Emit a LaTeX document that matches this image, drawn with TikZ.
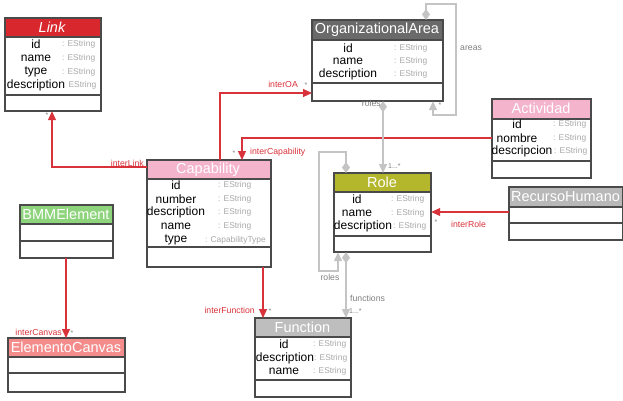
\documentclass[tikz,border=0pt]{standalone}
\usepackage{fontspec}
\setmainfont{Liberation Sans}
\usetikzlibrary{arrows.meta,calc}
\definecolor{bord}{HTML}{4A4A4A}
\definecolor{linkred}{HTML}{D8282E}
\definecolor{oagray}{HTML}{6A6A6A}
\definecolor{pinkh}{HTML}{F4B4CC}
\definecolor{olive}{HTML}{B4B62C}
\definecolor{rhgray}{HTML}{B8B8B8}
\definecolor{fngray}{HTML}{BEBEBE}
\definecolor{bmmgreen}{HTML}{8ED47C}
\definecolor{salmon}{HTML}{F48C8C}
\definecolor{relred}{HTML}{D8323A}
\definecolor{compgray}{HTML}{C4C4C4}
\definecolor{typegray}{HTML}{A8A8A8}
\tikzset{
  box/.style={draw=bord, line width=1.2pt, fill=white, inner sep=0pt, anchor=north west},
  sep/.style={draw=bord, line width=1.2pt},
  head/.style={text=white, font=\fontsize{14.5}{14.5}\selectfont, inner sep=0pt},
  attr/.style={font=\fontsize{12}{12}\selectfont, inner sep=0pt},
  typ/.style={font=\fontsize{8.4}{8.4}\selectfont, text=typegray, inner sep=0pt, anchor=west},
  rel/.style={draw=relred, line width=1.2pt, -{Triangle[length=9pt,width=8pt]}},
  comp/.style={draw=compgray, line width=1.4pt, {Diamond[length=11pt,width=8pt]}-{Triangle[length=9pt,width=8pt]}},
  rlab/.style={font=\fontsize{8.7}{9}\selectfont, text=relred, inner sep=0pt},
  glab/.style={font=\fontsize{8.7}{9}\selectfont, text=gray, inner sep=0pt},
  star/.style={font=\fontsize{7}{7}\selectfont, text=gray, inner sep=0pt},
}
\begin{document}
\begin{tikzpicture}[x=1pt,y=-1pt]
\useasboundingbox (0,0) rectangle (623,400);

% ---------- Link ----------
\node[box, minimum width=95pt, minimum height=92pt] (link) at (5,18) {};
\fill[linkred] (5,18) rectangle (100,37);
\draw[sep] (5,37) -- (100,37); \draw[sep] (5,95) -- (100,95);
\draw[bord, line width=1.2pt] (link.north west) rectangle (link.south east);
\node[head, font=\fontsize{14.5}{14.5}\selectfont\itshape] (linkt) at (52,27) {Link};
\node[attr] (l1) at (36,44) {id}; \node[typ] (l1t) at (62,44) {: EString};
\node[attr] (l2) at (36,58) {name}; \node[typ] (l2t) at (62,58) {: EString};
\node[attr] (l3) at (36,72) {type}; \node[typ] (l3t) at (62,72) {: EString};
\node[attr] (l4) at (36,85) {description}; \node[typ] (l4t) at (63,85) {: EString};

% ---------- OrganizationalArea ----------
\node[box, minimum width=130pt, minimum height=80pt] (oa) at (312,20) {};
\fill[oagray] (312,20) rectangle (442,40);
\draw[sep] (312,40) -- (442,40); \draw[sep] (312,83) -- (442,83);
\draw[bord, line width=1.2pt] (oa.north west) rectangle (oa.south east);
\node[head] (oat) at (377,30) {OrganizationalArea};
\node[attr] (o1) at (348,48) {id}; \node[typ] (o1t) at (394,48) {: EString};
\node[attr] (o2) at (348,61) {name}; \node[typ] (o2t) at (394,61) {: EString};
\node[attr] (o3) at (348,74) {description}; \node[typ] (o3t) at (394,74) {: EString};

% ---------- Capability ----------
\node[box, minimum width=123pt, minimum height=106pt] (cap) at (147,160) {};
\fill[pinkh] (147,160) rectangle (270,179);
\draw[sep] (147,179) -- (270,179); \draw[sep] (147,247) -- (270,247);
\draw[bord, line width=1.2pt] (cap.north west) rectangle (cap.south east);
\node[head] (capt) at (208,170) {Capability};
\node[attr] (c1) at (176,185) {id}; \node[typ] (c1t) at (218,185) {: EString};
\node[attr] (c2) at (176,199) {number}; \node[typ] (c2t) at (218,199) {: EString};
\node[attr] (c3) at (176,212) {description}; \node[typ] (c3t) at (218,212) {: EString};
\node[attr] (c4) at (176,226) {name}; \node[typ] (c4t) at (218,226) {: EString};
\node[attr] (c5) at (176,240) {type}; \node[typ] (c5t) at (205,240) {: CapabilityType};

% ---------- Role ----------
\node[box, minimum width=96pt, minimum height=78pt] (role) at (334,173) {};
\fill[olive] (334,173) rectangle (430,192);
\draw[sep] (334,192) -- (430,192); \draw[sep] (334,236) -- (430,236);
\draw[bord, line width=1.2pt] (role.north west) rectangle (role.south east);
\node[head] (rolet) at (382,182) {Role};
\node[attr] (r1) at (357,199) {id}; \node[typ] (r1t) at (391,199) {: EString};
\node[attr] (r2) at (357,213) {name}; \node[typ] (r2t) at (391,213) {: EString};
\node[attr] (r3) at (363,226) {description}; \node[typ] (r3t) at (393,226) {: EString};

% ---------- Actividad ----------
\node[box, minimum width=98pt, minimum height=78pt] (act) at (492,99) {};
\fill[pinkh] (492,99) rectangle (590,119);
\draw[sep] (492,119) -- (590,119); \draw[sep] (492,161) -- (590,161);
\draw[bord, line width=1.2pt] (act.north west) rectangle (act.south east);
\node[head] (actt) at (541,108) {Actividad};
\node[attr] (a1) at (517,124) {id}; \node[typ] (a1t) at (553,124) {: EString};
\node[attr] (a2) at (517,138) {nombre}; \node[typ] (a2t) at (553,138) {: EString};
\node[attr] (a3) at (522,151) {descripcion}; \node[typ] (a3t) at (554,151) {: EString};

% ---------- RecursoHumano ----------
\node[box, minimum width=113pt, minimum height=52pt] (rh) at (509,187) {};
\fill[rhgray] (509,187) rectangle (622,207);
\draw[sep] (509,207) -- (622,207); \draw[sep] (509,223) -- (622,223);
\draw[bord, line width=1.2pt] (rh.north west) rectangle (rh.south east);
\node[head] (rht) at (565.5,197) {RecursoHumano};

% ---------- Function ----------
\node[box, minimum width=95pt, minimum height=78pt] (fn) at (255,318) {};
\fill[fngray] (255,318) rectangle (350,337);
\draw[sep] (255,337) -- (350,337); \draw[sep] (255,380) -- (350,380);
\draw[bord, line width=1.2pt] (fn.north west) rectangle (fn.south east);
\node[head] (fnt) at (302.5,327) {Function};
\node[attr] (f1) at (284,344) {id}; \node[typ] (f1t) at (313,344) {: EString};
\node[attr] (f2) at (285,358) {description}; \node[typ] (f2t) at (314,358) {: EString};
\node[attr] (f3) at (284,371) {name}; \node[typ] (f3t) at (313,371) {: EString};

% ---------- BMMElement ----------
\node[box, minimum width=92pt, minimum height=52pt] (bmm) at (20,205) {};
\fill[bmmgreen] (20,205) rectangle (112,224);
\draw[sep] (20,224) -- (112,224); \draw[sep] (20,241) -- (112,241);
\draw[bord, line width=1.2pt] (bmm.north west) rectangle (bmm.south east);
\node[head] (bmmt) at (66,214) {BMMElement};

% ---------- ElementoCanvas ----------
\node[box, minimum width=116pt, minimum height=53pt] (ec) at (8,338) {};
\fill[salmon] (8,338) rectangle (124,357);
\draw[sep] (8,357) -- (124,357); \draw[sep] (8,373) -- (124,373);
\draw[bord, line width=1.2pt] (ec.north west) rectangle (ec.south east);
\node[head] (ect) at (66,347) {ElementoCanvas};

% ---------- red relations ----------
\draw[rel] (cap.west |- 0,167) -| (link.south -| 52,0);
\node[rlab, anchor=east] (lblLink) at (144,163) {interLink};
\node[star] (sLink) at (47,115) {*};

\draw[rel] (cap.north -| 220,0) |- (oa.west |- 0,93);
\node[rlab, anchor=east] (lblOA) at (298,84) {interOA};
\node[star] (sOA) at (306,85) {*};

\draw[rel] (act.west |- 0,138) -| (cap.north -| 242,0);
\node[rlab, anchor=west] (lblCap) at (250,152) {interCapability};
\node[star] (sCap) at (234,153) {*};

\draw[rel] (rh.west |- 0,212) -- (role.east |- 0,212);
\node[rlab, anchor=west] (lblRole) at (451,224) {interRole};
\node[star] (sRole) at (436,222) {*};

\draw[rel] (cap.south -| 263,0) -- (fn.north -| 263,0);
\node[rlab, anchor=east] (lblFn) at (255,310) {interFunction};
\node[star] (sFn) at (270,311) {*};

\draw[rel] (bmm.south -| 66,0) -- (ec.north -| 66,0);
\node[rlab, anchor=east] (lblEc) at (62,332) {interCanvas};
\node[star] (sEc) at (72,333) {*};

% ---------- gray compositions ----------
\draw[comp] (oa.north -| 426,0) -- (426,4) -| (456,115) -| (oa.south -| 433,0);
\node[glab, anchor=west] (lblAreas) at (460,48) {areas};
\node[star] (sAreas) at (440,105) {*};

\draw[comp] (oa.south -| 383,0) -- (role.north -| 383,0);
\node[glab, anchor=east] (lblRoles1) at (381,103) {roles};
\node[star, anchor=west] (sRoles1) at (388,166) {1...*};

\draw[comp] (role.north -| 346,0) -- (346,152) -| (319,271) -| (role.south -| 338,0);
\node[glab] (lblRoles2) at (330,277) {roles};

\draw[comp] (role.south -| 346,0) -- (fn.north -| 346,0);
\node[glab, anchor=west] (lblFns) at (350,298) {functions};
\node[star, anchor=west] (sFns) at (349,311) {1...*};
\end{tikzpicture}
\end{document}
